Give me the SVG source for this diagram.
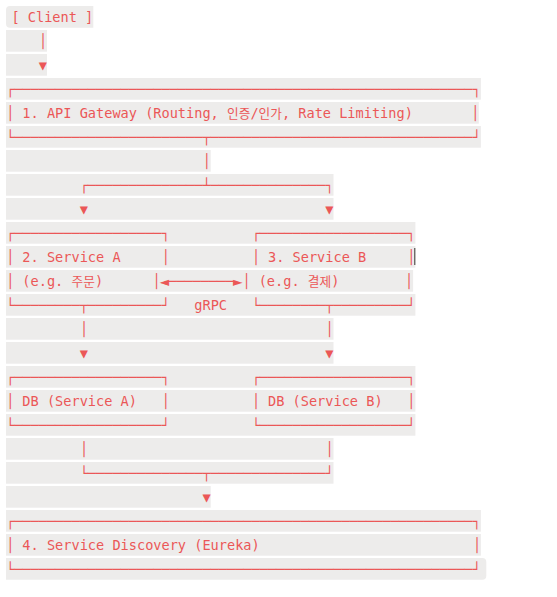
<svg xmlns="http://www.w3.org/2000/svg" width="557" height="597" viewBox="0 0 557 597" xml:space="preserve">
<style>
.bg{fill:#EDECEB}
.t{font-family:"DejaVu Sans Mono","Liberation Mono",monospace;font-size:13.6px;fill:#EB5757;white-space:pre}
.h{font-family:"DejaVu Sans Mono","Liberation Mono",monospace;font-size:16px;fill:#EB5757}
.k{font-family:"Noto Sans CJK KR","DejaVu Sans",sans-serif;font-size:12.6px;fill:#EB5757}
</style>
<rect width="557" height="597" fill="#FFFFFF"/>
<g id="line-backgrounds">
<path class="bg" d="M10,6 H93.3 V27.7 H10 Q6,27.7 6,23.7 V10 Q6,6 10,6 Z"/>
<rect class="bg" x="6" y="30" width="40.95" height="21.7"/>
<rect class="bg" x="6" y="54" width="40.95" height="21.7"/>
<rect class="bg" x="6" y="78" width="474.9" height="21.7"/>
<rect class="bg" x="6" y="102" width="472.8" height="21.7"/>
<rect class="bg" x="6" y="126" width="474.9" height="21.7"/>
<rect class="bg" x="6" y="150" width="204.7" height="21.7"/>
<rect class="bg" x="6" y="174" width="327.5" height="21.7"/>
<rect class="bg" x="6" y="198" width="327.5" height="21.7"/>
<rect class="bg" x="6" y="222" width="409.4" height="21.7"/>
<rect class="bg" x="6" y="246" width="409.4" height="21.7"/>
<rect class="bg" x="6" y="270" width="407.1" height="21.7"/>
<rect class="bg" x="6" y="294" width="409.4" height="21.7"/>
<rect class="bg" x="6" y="318" width="327.5" height="21.7"/>
<rect class="bg" x="6" y="342" width="327.5" height="21.7"/>
<rect class="bg" x="6" y="366" width="409.4" height="21.7"/>
<rect class="bg" x="6" y="390" width="409.4" height="21.7"/>
<rect class="bg" x="6" y="414" width="409.4" height="21.7"/>
<rect class="bg" x="6" y="438" width="327.5" height="21.7"/>
<rect class="bg" x="6" y="462" width="327.5" height="21.7"/>
<rect class="bg" x="6" y="486" width="204.7" height="21.7"/>
<rect class="bg" x="6" y="510" width="474.9" height="21.7"/>
<rect class="bg" x="6" y="534" width="474.9" height="21.7"/>
<path class="bg" d="M6,558 H482.3 Q486.3,558 486.3,562 V575.7 Q486.3,579.7 482.3,579.7 H6 Z"/>
</g>
<g id="client">
<text class="t" x="11.44" y="21.9">[ Client ]</text>
</g>
<g id="api-gateway">
<text class="t" x="6" y="93.9">┌────────────────────────────────────────────────────────┐</text>
<text class="t" x="6" y="117.9">│ 1. API Gateway (Routing, </text>
<text class="k" x="227.1" y="117.9" textLength="23.3" lengthAdjust="spacingAndGlyphs">인증</text>
<text class="t" x="250.4" y="117.9">/</text>
<text class="k" x="258.6" y="117.9" textLength="23.3" lengthAdjust="spacingAndGlyphs">인가</text>
<text class="t" x="281.9" y="117.9">, Rate Limiting)</text>
<text class="t" x="470.9" y="117.9">│</text>
<text class="t" x="6" y="141.9">└───────────────────────┬────────────────────────────────┘</text>
</g>
<g id="service-a">
<text class="t" x="6" y="237.9">┌──────────────────┐</text>
<text class="t" x="6" y="261.9">│ 2. Service A     │</text>
<text class="t" x="6" y="285.9">│ (e.g. </text>
<text class="k" x="71.5" y="285.9" textLength="23.4" lengthAdjust="spacingAndGlyphs">주문</text>
<text class="t" x="94.9" y="285.9">)      │</text>
<text class="t" x="6" y="309.9">└────────┬─────────┘</text>
</g>
<g id="service-b">
<text class="t" x="251.64" y="237.9">┌──────────────────┐</text>
<text class="t" x="251.64" y="261.9">│ 3. Service B     │</text>
<text class="t" x="242.3" y="285.9">│ (e.g. </text>
<text class="k" x="307.8" y="285.9" textLength="23.4" lengthAdjust="spacingAndGlyphs">결제</text>
<text class="t" x="331.2" y="285.9">)        │</text>
<text class="t" x="251.64" y="309.9">└────────┬─────────┘</text>
</g>
<g id="db-service-a">
<text class="t" x="6" y="381.9">┌──────────────────┐</text>
<text class="t" x="6" y="405.9">│ DB (Service A)   │</text>
<text class="t" x="6" y="429.9">└──────────────────┘</text>
</g>
<g id="db-service-b">
<text class="t" x="251.64" y="381.9">┌──────────────────┐</text>
<text class="t" x="251.64" y="405.9">│ DB (Service B)   │</text>
<text class="t" x="251.64" y="429.9">└──────────────────┘</text>
</g>
<g id="service-discovery">
<text class="t" x="6" y="525.9">┌────────────────────────────────────────────────────────┐</text>
<text class="t" x="6" y="549.9">│ 4. Service Discovery (Eureka)</text>
<text class="t" x="472.7" y="549.9">│</text>
<text class="t" x="6" y="573.9">└────────────────────────────────────────────────────────┘</text>
</g>
<g id="connectors">
<text class="t" x="38.75" y="45.9">│</text>
<text class="t" x="38.75" y="69.9">▼</text>
<text class="t" x="202.51" y="165.9">│</text>
<text class="t" x="79.69" y="189.9">┌──────────────┴──────────────┐</text>
<text class="t" x="79.69" y="213.9">▼</text>
<text class="t" x="325.33" y="213.9">▼</text>
<text class="h" x="159.6" y="287">◄</text>
<text class="t" x="168" y="285.9">────────</text>
<text class="h" x="233" y="287">►</text>
<text class="t" x="194.32" y="309.9">gRPC</text>
<text class="t" x="79.69" y="333.9">│</text>
<text class="t" x="325.33" y="333.9">│</text>
<text class="t" x="79.69" y="357.9">▼</text>
<text class="t" x="325.33" y="357.9">▼</text>
<text class="t" x="79.69" y="453.9">│</text>
<text class="t" x="325.33" y="453.9">│</text>
<text class="t" x="79.69" y="477.9">└──────────────┬──────────────┘</text>
<text class="t" x="202.51" y="501.9">▼</text>
</g>
<rect x="414.3" y="248" width="1" height="17" fill="#37352F"/>
</svg>
